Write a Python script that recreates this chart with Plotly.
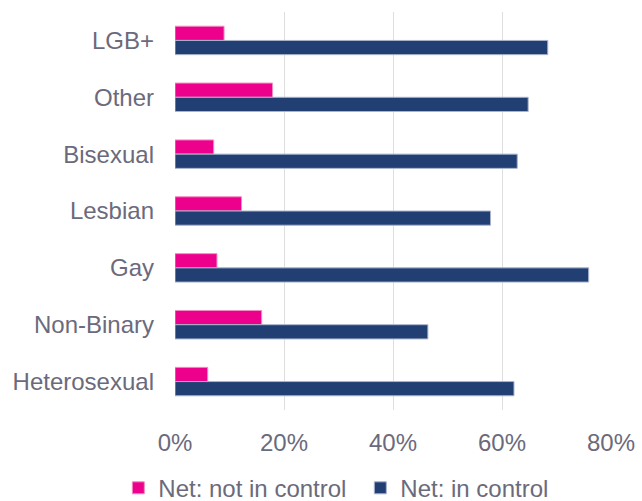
import plotly.graph_objects as go

categories = ["LGB+", "Other", "Bisexual", "Lesbian", "Gay", "Non-Binary", "Heterosexual"]
not_in_control = [9.0, 17.9, 7.1, 12.2, 7.7, 15.9, 6.0]
in_control = [68.4, 64.8, 62.8, 57.9, 75.9, 46.4, 62.2]
tick_vals = [0, 20, 40, 60, 80]
tick_text = ["0%", "20%", "40%", "60%", "80%"]

font_color = "#6B6A7C"
FONT = "Liberation Sans"

fig = go.Figure()
fig.add_trace(go.Bar(
    y=categories, x=not_in_control, orientation="h", name="Net: not in control",
    marker=dict(color="#EC008C", line=dict(color="#F48CC4", width=1)),
))
fig.add_trace(go.Bar(
    y=categories, x=in_control, orientation="h", name="Net: in control",
    marker=dict(color="#223F73", line=dict(color="#A9B4CC", width=1)),
))

fig.update_layout(
    width=642, height=501,
    margin=dict(l=175, r=31, t=12, b=91, autoexpand=False),
    paper_bgcolor="white", plot_bgcolor="white",
    barmode="group", bargap=0.5, bargroupgap=0,
    font=dict(family=FONT, size=24, color=font_color),
    xaxis=dict(range=[0, 80], tickvals=tick_vals, ticktext=tick_text,
               showgrid=True, gridcolor="#DEDEDE", gridwidth=1.2, zeroline=False,
               showline=False, ticks="", ticklabelstandoff=16),
    yaxis=dict(autorange="reversed", showgrid=False, showline=False, ticks="",
               ticklabelstandoff=20),
    showlegend=True,
    legend=dict(orientation="h", x=-0.13, xanchor="left", y=-0.14, yanchor="top",
                font=dict(family=FONT, size=24, color=font_color),
                itemwidth=30, tracegroupgap=0, entrywidth=197),
)

fig.write_html("out.html")
